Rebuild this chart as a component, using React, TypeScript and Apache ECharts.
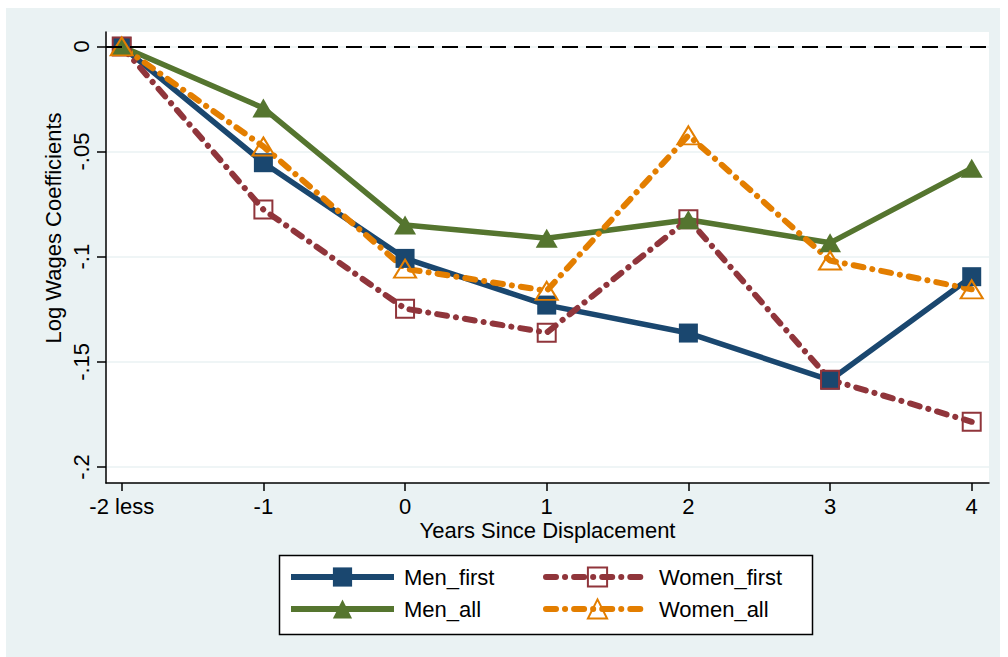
import React, { useEffect, useRef } from "react";
import * as echarts from "echarts";

const years = [-2, -1, 0, 1, 2, 3, 4];
const yearLabels = ["-2 less", "-1", "0", "1", "2", "3", "4"];
const yTicks = [0, -0.05, -0.1, -0.15, -0.2];
const yTickLabels = ["0", "-.05", "-.1", "-.15", "-.2"];

const menFirst = [0, -0.0553, -0.1008, -0.123, -0.1363, -0.1587, -0.1095];
const womenFirst = [0, -0.0776, -0.1247, -0.1361, -0.0822, -0.1585, -0.1785];
const menAll = [0, -0.0293, -0.0849, -0.0912, -0.0824, -0.0934, -0.0579];
const womenAll = [0, -0.0476, -0.1057, -0.1162, -0.0423, -0.1018, -0.1155];

const NAVY = "#1A476F";
const MAROON = "#90353B";
const GREEN = "#55752F";
const ORANGE = "#E37E00";
const FONT = "Liberation Sans, Arial, sans-serif";

export default function App() {
  const ref = useRef<HTMLDivElement>(null);
  useEffect(() => {
    document.body.style.margin = "0";
    const chart = echarts.init(ref.current!, null, { renderer: "svg" });
    const pair = (arr: number[]) => years.map((x, i) => [x, arr[i]]);
    const dashDot = [10, 9, 0.1, 9];
    const findLabel = (vals: number[], labels: string[], v: number) => {
      const i = vals.findIndex((t) => Math.abs(t - v) < 1e-9);
      return i >= 0 ? labels[i] : "";
    };
    const legendCommon = {
      orient: "vertical",
      top: 566,
      itemWidth: 103,
      itemHeight: 24,
      itemGap: 10,
      padding: 0,
      selectedMode: false,
      textStyle: { fontSize: 22, color: "#000", fontFamily: FONT, padding: [0, 0, 0, 5] },
      lineStyle: { width: 6 },
    };
    chart.setOption({
      animation: false,
      backgroundColor: "transparent",
      grid: {
        left: 106,
        right: 19,
        top: 32,
        bottom: 174,
        show: true,
        backgroundColor: "#fff",
        borderWidth: 0,
      },
      xAxis: {
        type: "value",
        min: -2.111,
        max: 4.122,
        axisLine: { show: true, onZero: false, lineStyle: { color: "#000", width: 1.5 } },
        axisTick: { show: true, length: 8, lineStyle: { color: "#000", width: 1.5 }, customValues: years },
        axisLabel: {
          customValues: years,
          formatter: (v: number) => findLabel(years, yearLabels, v),
          margin: 12,
          color: "#000",
          fontSize: 22,
          fontFamily: FONT,
        },
        splitLine: { show: false },
      },
      yAxis: {
        type: "value",
        min: -0.2076,
        max: 0.00685,
        axisLine: { show: true, onZero: false, lineStyle: { color: "#000", width: 1.5 } },
        axisTick: { show: true, length: 9, lineStyle: { color: "#000", width: 1.5 }, customValues: yTicks },
        axisLabel: {
          customValues: yTicks,
          rotate: 90,
          formatter: (v: number) => findLabel(yTicks, yTickLabels, v),
          margin: 14,
          color: "#000",
          fontSize: 22,
          fontFamily: FONT,
        },
        splitLine: { show: true, lineStyle: { color: "#EAF2F3", width: 1.5 } },
      },
      legend: [
        { ...legendCommon, left: 288, data: ["Men_first", "Men_all"] },
        { ...legendCommon, left: 543, data: ["Women_first", "Women_all"] },
      ],
      graphic: [
        {
          type: "rect",
          z: 0,
          shape: { x: 279.5, y: 555.5, width: 533, height: 79 },
          style: { fill: "#fff", stroke: "#000", lineWidth: 1.5 },
        },
        {
          type: "text",
          x: 53,
          y: 228,
          rotation: Math.PI / 2,
          style: {
            text: "Log Wages Coefficients",
            fontSize: 22,
            fontFamily: FONT,
            fill: "#000",
            align: "center",
            verticalAlign: "middle",
          },
        },
        {
          type: "text",
          x: 547.5,
          y: 530,
          style: {
            text: "Years Since Displacement",
            fontSize: 22,
            fontFamily: FONT,
            fill: "#000",
            align: "center",
            verticalAlign: "middle",
          },
        },
      ],
      series: [
        {
          name: "Men_first",
          type: "line",
          data: pair(menFirst),
          symbol: "rect",
          symbolSize: 19,
          lineStyle: { color: NAVY, width: 5.5 },
          itemStyle: { color: NAVY },
          emphasis: { disabled: true },
          markLine: {
            silent: true,
            symbol: ["none", "none"],
            label: { show: false },
            lineStyle: { color: "#000", width: 2, type: [16, 8] },
            emphasis: { disabled: true },
            data: [{ yAxis: 0 }],
          },
        },
        {
          name: "Women_first",
          type: "line",
          data: pair(womenFirst),
          symbol: "rect",
          symbolSize: 18,
          lineStyle: { color: MAROON, width: 6, type: dashDot, cap: "round" },
          itemStyle: { color: "rgba(255,255,255,0)", borderColor: MAROON, borderWidth: 2 },
          emphasis: { disabled: true },
        },
        {
          name: "Men_all",
          type: "line",
          data: pair(menAll),
          symbol: "triangle",
          symbolSize: [22, 19],
          lineStyle: { color: GREEN, width: 5.5 },
          itemStyle: { color: GREEN },
          emphasis: { disabled: true },
        },
        {
          name: "Women_all",
          type: "line",
          data: pair(womenAll),
          symbol: "triangle",
          symbolSize: [22, 18],
          lineStyle: { color: ORANGE, width: 6, type: dashDot, cap: "round" },
          itemStyle: { color: "rgba(255,255,255,0)", borderColor: ORANGE, borderWidth: 2 },
          emphasis: { disabled: true },
        },
      ],
    });
    return () => chart.dispose();
  }, []);

  return (
    <div style={{ position: "relative", width: 1008, height: 657, background: "#fff", overflow: "hidden" }}>
      <div style={{ position: "absolute", left: 6, top: 8, width: 994, height: 649, background: "#EAF2F3" }} />
      <div ref={ref} style={{ position: "absolute", left: 0, top: 0, width: 1008, height: 657 }} />
    </div>
  );
}
